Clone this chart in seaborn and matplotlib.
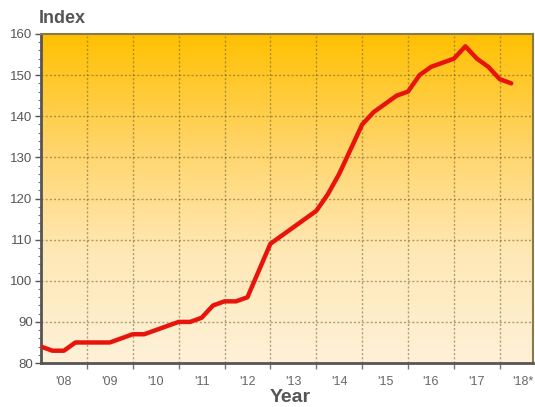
import numpy as np
import pandas as pd
import matplotlib
matplotlib.use('Agg')
import matplotlib.pyplot as plt
import seaborn as sns
from matplotlib.colors import LinearSegmentedColormap

# quarterly index values, 2008 Q1 .. 2018 Q2
quarters = np.arange(2008.0, 2018.26, 0.25)
index_values = [84, 83, 83, 85, 85, 85, 85, 86,
                87, 87, 88, 89, 90, 90, 91, 94,
                95, 95, 96, 102.5, 109, 111, 113, 115,
                117, 121, 126, 132, 138, 141, 143, 145,
                146, 150, 152, 153, 154, 157, 154, 152,
                149, 148]
year_labels = ["'08", "'09", "'10", "'11", "'12", "'13",
               "'14", "'15", "'16", "'17", "'18*"]
year_label_pos = [2008.5 + i for i in range(len(year_labels))]

df = pd.DataFrame({'year': quarters, 'index': index_values})

sns.set_style('white')
plt.rcParams['font.family'] = ['Liberation Sans', 'DejaVu Sans']

fig = plt.figure(figsize=(5.35, 4.07), dpi=100)
ax = fig.add_axes([0.0766, 0.108, 0.9194, 0.8085])

x0, x1 = 2008.0, 2018.72
y0, y1 = 80, 160

# background gradient (orange at top -> cream at bottom)
cmap = LinearSegmentedColormap.from_list(
    'bg', ['#fdf1d8', '#ffe8b6', '#ffd466', '#ffc000'])
grad = np.linspace(0, 1, 256).reshape(-1, 1)
ax.imshow(grad, extent=[x0, x1, y0, y1], origin='lower', aspect='auto',
          cmap=cmap, zorder=0)

sns.lineplot(data=df, x='year', y='index', ax=ax, color='#e8140c',
             linewidth=3.2, zorder=3, solid_joinstyle='round')

ax.set_xlim(x0, x1)
ax.set_ylim(y0, y1)

# grid
grid_kw = dict(color='#6e5e2e', alpha=0.55, lw=1.0, ls=(0, (1.5, 1.5)), zorder=1)
for yv in range(90, 160, 10):
    ax.axhline(yv, **grid_kw)
for xv in range(2009, 2019):
    ax.axvline(xv, **grid_kw)

ax.set_yticks(range(80, 161, 10))
ax.set_yticks(range(80, 161, 2), minor=True)
ax.set_xticks(range(2009, 2019))
ax.set_xticklabels([])
ax.tick_params(axis='y', which='major', left=True, direction='out', length=4,
               width=1, color='#555555', labelsize=9.5, labelcolor='#555555',
               pad=2)
ax.tick_params(axis='y', which='minor', left=True, direction='out', length=2,
               width=0.8, color='#777777')
ax.tick_params(axis='x', which='major', bottom=True, direction='out',
               length=4, width=1, color='#777777')

for pos, lab in zip(year_label_pos, year_labels):
    ax.text(pos, -0.04, lab, transform=ax.get_xaxis_transform(),
            ha='center', va='top', fontsize=9, color='#666666')

ax.set_xlabel('')
ax.set_ylabel('')

for side in ['left', 'bottom']:
    ax.spines[side].set_color('#555555')
    ax.spines[side].set_linewidth(2)
for side in ['top', 'right']:
    ax.spines[side].set_color('#8a7a4a')
    ax.spines[side].set_linewidth(1.5)

fig.text(0.072, 0.955, 'Index', fontsize=13, fontweight='bold',
         color='#555555', ha='left', va='center')
fig.text(0.542, 0.024, 'Year', fontsize=14, fontweight='bold',
         color='#555555', ha='center', va='center')

fig.savefig('out.png', dpi=100)
